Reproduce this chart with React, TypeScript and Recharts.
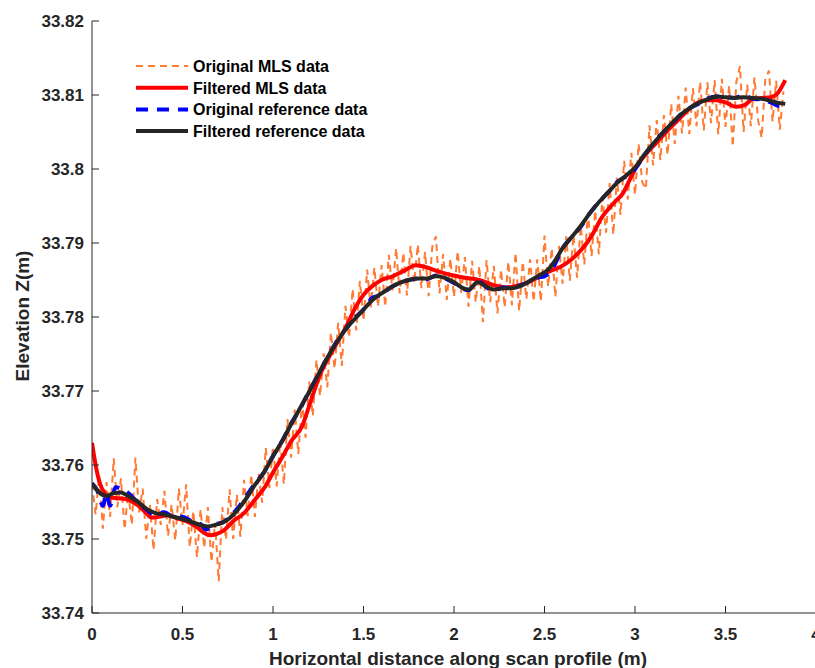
import { LineChart, Line, XAxis, YAxis } from "recharts";

// Original MLS data: sampled every 0.02 m starting at 0
const MLS_STEP = 0.02;
const mlsZ = [
  33.7575, 33.7533, 33.7586, 33.7514, 33.7577, 33.753, 33.7609, 33.7543, 33.7582, 33.7513,
  33.7565, 33.7519, 33.761, 33.7536, 33.7568, 33.75, 33.7546, 33.7485, 33.7554, 33.7519,
  33.7565, 33.7504, 33.7547, 33.7498, 33.7568, 33.7519, 33.7574, 33.7489, 33.7538, 33.7475,
  33.754, 33.7488, 33.7543, 33.7469, 33.7522, 33.7443, 33.7543, 33.7499, 33.7567, 33.75,
  33.756, 33.7503, 33.758, 33.7531, 33.7587, 33.753, 33.7589, 33.7549, 33.7623, 33.7569,
  33.7625, 33.7571, 33.7633, 33.7574, 33.7662, 33.761, 33.7675, 33.7615, 33.7685, 33.7637,
  33.7713, 33.7666, 33.7742, 33.7693, 33.7751, 33.7705, 33.7779, 33.773, 33.7792, 33.7734,
  33.7815, 33.7772, 33.7838, 33.7782, 33.7849, 33.7795, 33.7864, 33.7813, 33.7867, 33.7814,
  33.787, 33.7814, 33.7884, 33.7836, 33.7893, 33.7832, 33.7887, 33.7829, 33.7896, 33.7846,
  33.7898, 33.7839, 33.7888, 33.7828, 33.7895, 33.7909, 33.7832, 33.7885, 33.7823, 33.7879,
  33.7827, 33.7889, 33.7833, 33.7881, 33.7814, 33.7876, 33.782, 33.7869, 33.7793, 33.7877,
  33.782, 33.7869, 33.7805, 33.7864, 33.7813, 33.7875, 33.7816, 33.7887, 33.7808, 33.7875,
  33.7824, 33.7878, 33.7821, 33.7878, 33.7821, 33.791, 33.7841, 33.7893, 33.7827, 33.7896,
  33.7845, 33.7909, 33.7849, 33.7911, 33.7853, 33.7923, 33.7871, 33.7941, 33.7882, 33.7944,
  33.7885, 33.7962, 33.7914, 33.7981, 33.7911, 33.7988, 33.7938, 33.8011, 33.7959, 33.8022,
  33.7965, 33.8034, 33.7982, 33.7973, 33.8059, 33.8005, 33.8066, 33.8012, 33.8073, 33.8019,
  33.8088, 33.8034, 33.8099, 33.8048, 33.811, 33.8047, 33.8109, 33.8058, 33.8118, 33.8052,
  33.8117, 33.8062, 33.812, 33.8047, 33.8122, 33.8057, 33.8113, 33.803, 33.8118, 33.8139,
  33.805, 33.8114, 33.8058, 33.8124, 33.8066, 33.8042, 33.8122, 33.8133, 33.8064, 33.8119,
  33.8053, 33.8105,
];

const filtMlsX = [
  0, 0.02, 0.04, 0.07, 0.1, 0.15, 0.2, 0.25, 0.3, 0.33, 0.37, 0.42, 0.47, 0.53, 0.58, 0.62,
  0.65, 0.69, 0.73, 0.78, 0.84, 0.9, 0.96, 1.0, 1.05, 1.1, 1.16, 1.2, 1.26, 1.33, 1.4, 1.46,
  1.5, 1.55, 1.6, 1.66, 1.72, 1.79, 1.85, 1.92, 2.0, 2.06, 2.14, 2.22, 2.29, 2.36, 2.42, 2.48,
  2.53, 2.59, 2.65, 2.7, 2.74, 2.78, 2.81, 2.85, 2.89, 2.93, 2.97, 3.01, 3.06, 3.12, 3.18,
  3.23, 3.29, 3.34, 3.4, 3.45, 3.5, 3.56, 3.61, 3.65, 3.7, 3.75, 3.79, 3.83,
];
const filtMlsZ = [
  33.763, 33.76, 33.7578, 33.7562, 33.7556, 33.7555, 33.7553, 33.7546, 33.7535, 33.7529,
  33.753, 33.7532, 33.7528, 33.7523, 33.7516, 33.7508, 33.7505, 33.7507, 33.7512, 33.7524,
  33.7535, 33.7553, 33.7572, 33.759, 33.761, 33.7632, 33.7652, 33.768, 33.7722, 33.7755,
  33.7785, 33.7815, 33.783, 33.7842, 33.785, 33.7855, 33.7862, 33.787, 33.7867, 33.7861,
  33.7856, 33.7853, 33.785, 33.7843, 33.784, 33.7843, 33.7848, 33.7856, 33.7862, 33.7868,
  33.7878, 33.789, 33.7902, 33.7918, 33.7932, 33.7945, 33.7956, 33.7966, 33.7985, 33.8004,
  33.802, 33.8036, 33.8052, 33.8064, 33.8079, 33.8089, 33.8093, 33.8093, 33.809, 33.8084,
  33.8087, 33.8095, 33.8096, 33.8097, 33.8103, 33.812,
];

const refX = [
  0, 0.03, 0.06, 0.08, 0.1, 0.13, 0.17, 0.21, 0.25, 0.3, 0.35, 0.4, 0.45, 0.5, 0.55, 0.6,
  0.63, 0.68, 0.72, 0.76, 0.8, 0.85, 0.9, 0.95, 1.0, 1.05, 1.1, 1.15, 1.2, 1.25, 1.3, 1.35,
  1.4, 1.45, 1.5, 1.55, 1.6, 1.65, 1.7, 1.75, 1.8, 1.85, 1.9, 1.95, 2.0, 2.05, 2.08, 2.13,
  2.18, 2.22, 2.27, 2.32, 2.37, 2.42, 2.46, 2.5, 2.55, 2.6, 2.65, 2.7, 2.75, 2.8, 2.85, 2.9,
  2.95, 3.0, 3.05, 3.1, 3.15, 3.2, 3.25, 3.3, 3.35, 3.4, 3.45, 3.5, 3.55, 3.6, 3.65, 3.7,
  3.75, 3.8, 3.83,
];
const refZ = [
  33.7575, 33.7565, 33.7545, 33.7562, 33.7545, 33.757, 33.7567, 33.756, 33.755, 33.754,
  33.7532, 33.7536, 33.753, 33.753, 33.7524, 33.752, 33.7513, 33.752, 33.7522, 33.753,
  33.754, 33.7557, 33.7575, 33.759, 33.7612, 33.7632, 33.7656, 33.7676, 33.77, 33.7722,
  33.7745, 33.7766, 33.7783, 33.7798, 33.781, 33.7826, 33.783, 33.784, 33.7846, 33.785,
  33.7852, 33.7851, 33.7856, 33.7852, 33.7846, 33.7838, 33.7836, 33.7849, 33.784, 33.7835,
  33.784, 33.7839, 33.7843, 33.7848, 33.7853, 33.7855, 33.7868, 33.7893, 33.7908, 33.7922,
  33.794, 33.7955, 33.7968, 33.7982, 33.799, 33.8, 33.8018, 33.8034, 33.8048, 33.806,
  33.8073, 33.8082, 33.8088, 33.8095, 33.8098, 33.8097, 33.8096, 33.81, 33.8095, 33.8094,
  33.809, 33.8085, 33.8088,
];

const filtRefX = [
  0, 0.04, 0.08, 0.12, 0.16, 0.2, 0.25, 0.3, 0.35, 0.4, 0.45, 0.5, 0.55, 0.6, 0.64, 0.68,
  0.72, 0.76, 0.8, 0.85, 0.9, 0.95, 1.0, 1.05, 1.1, 1.15, 1.2, 1.25, 1.3, 1.35, 1.4, 1.45,
  1.5, 1.55, 1.6, 1.65, 1.7, 1.75, 1.8, 1.85, 1.9, 1.95, 2.0, 2.05, 2.08, 2.13, 2.18, 2.22,
  2.27, 2.32, 2.37, 2.42, 2.47, 2.52, 2.56, 2.6, 2.65, 2.7, 2.75, 2.8, 2.85, 2.9, 2.95, 3.0,
  3.05, 3.1, 3.15, 3.2, 3.25, 3.3, 3.35, 3.4, 3.45, 3.5, 3.55, 3.6, 3.65, 3.7, 3.75, 3.8, 3.83,
];
const filtRefZ = [
  33.7575, 33.7563, 33.7558, 33.7562, 33.7563, 33.7558, 33.7551, 33.7541, 33.7535, 33.7533,
  33.753, 33.7527, 33.7523, 33.7519, 33.7517, 33.7519, 33.7522, 33.7528, 33.7538, 33.7554,
  33.7573, 33.759, 33.7612, 33.7632, 33.7655, 33.7677, 33.7699, 33.7722, 33.7745, 33.7765,
  33.7783, 33.7797, 33.781, 33.7823, 33.7832, 33.784, 33.7846, 33.785, 33.7852, 33.7852,
  33.7855, 33.7853, 33.7847, 33.7839, 33.7837, 33.7847, 33.7841, 33.7837, 33.7839, 33.7839,
  33.7842, 33.7849, 33.7856, 33.7864, 33.7877, 33.7893, 33.7908, 33.7923, 33.794, 33.7955,
  33.7968, 33.7981, 33.7991, 33.8002, 33.8019, 33.8034, 33.8048, 33.8061, 33.8073, 33.8082,
  33.8089, 33.8094, 33.8098, 33.8097, 33.8096, 33.8097, 33.8096, 33.8095, 33.8092, 33.8089,
  33.8088,
];

const xTicks = [0, 0.5, 1, 1.5, 2, 2.5, 3, 3.5, 4];
const yTicks = [33.74, 33.75, 33.76, 33.77, 33.78, 33.79, 33.8, 33.81, 33.82];

const ORANGE = "#FF7A33";
const RED = "#FF0000";
const BLUE = "#0000FF";
const DARK = "#262626";
const FONT = "'Liberation Sans', Arial, sans-serif";

const mlsData = mlsZ.map((z, i) => ({ x: i * MLS_STEP, z }));
const filtMlsData = filtMlsX.map((x, i) => ({ x, z: filtMlsZ[i] }));
const refData = refX.map((x, i) => ({ x, z: refZ[i] }));
const filtRefData = filtRefX.map((x, i) => ({ x, z: filtRefZ[i] }));

const legendItems = [
  { label: "Original MLS data", color: ORANGE, width: 2, dash: "7 5" },
  { label: "Filtered MLS data", color: RED, width: 4, dash: undefined },
  { label: "Original reference data", color: BLUE, width: 4, dash: "12 9" },
  { label: "Filtered reference data", color: DARK, width: 4, dash: undefined },
];

const tickStyle = { fontSize: 17, fontWeight: 700, fill: DARK, fontFamily: FONT };

export default function App() {
  return (
    <div
      style={{
        position: "absolute",
        left: 0,
        top: 0,
        width: 815,
        height: 668,
        overflow: "hidden",
        background: "#fff",
      }}
    >
      <LineChart
        width={830}
        height={668}
        margin={{ top: 21, right: 14, bottom: 0, left: 0 }}
      >
        <XAxis
          type="number"
          dataKey="x"
          domain={[0, 4]}
          ticks={xTicks}
          interval={0}
          height={55}
          allowDataOverflow
          tickSize={-7}
          tickMargin={22}
          tick={tickStyle}
          tickFormatter={(v: number) => String(+v.toFixed(1))}
          axisLine={{ stroke: DARK, strokeWidth: 1 }}
          tickLine={{ stroke: DARK, strokeWidth: 1 }}
          label={{
            content: () => (
              <text
                x={458}
                y={665}
                textAnchor="middle"
                style={{ fontSize: 19, fontWeight: 700, fill: DARK, fontFamily: FONT }}
              >
                Horizontal distance along scan profile (m)
              </text>
            ),
          }}
        />
        <YAxis
          type="number"
          dataKey="z"
          domain={[33.74, 33.82]}
          ticks={yTicks}
          interval={0}
          width={92}
          allowDataOverflow
          tickSize={-7}
          tickMargin={15}
          tick={tickStyle}
          tickFormatter={(v: number) => String(+v.toFixed(2))}
          axisLine={{ stroke: DARK, strokeWidth: 1 }}
          tickLine={{ stroke: DARK, strokeWidth: 1 }}
          label={{
            content: () => (
              <text
                x={29}
                y={316}
                transform="rotate(-90, 29, 316)"
                textAnchor="middle"
                style={{ fontSize: 19, fontWeight: 700, fill: DARK, fontFamily: FONT }}
              >
                Elevation Z(m)
              </text>
            ),
          }}
        />
        <Line
          data={mlsData}
          dataKey="z"
          type="linear"
          stroke={ORANGE}
          strokeWidth={2}
          strokeDasharray="7 5"
          dot={false}
          activeDot={false}
          isAnimationActive={false}
        />
        <Line
          data={filtMlsData}
          dataKey="z"
          type="monotone"
          stroke={RED}
          strokeWidth={4}
          dot={false}
          activeDot={false}
          isAnimationActive={false}
        />
        <Line
          data={refData}
          dataKey="z"
          type="monotone"
          stroke={BLUE}
          strokeWidth={4}
          strokeDasharray="12 9"
          dot={false}
          activeDot={false}
          isAnimationActive={false}
        />
        <Line
          data={filtRefData}
          dataKey="z"
          type="monotone"
          stroke={DARK}
          strokeWidth={4}
          dot={false}
          activeDot={false}
          isAnimationActive={false}
        />
      </LineChart>

      {/* legend, no box, top-left inside the axes */}
      <svg
        width={260}
        height={90}
        style={{ position: "absolute", left: 130, top: 52 }}
      >
        {legendItems.map((item, i) => {
          const cy = 14 + i * 21.7;
          return (
            <g key={item.label}>
              <line
                x1={6}
                x2={58}
                y1={cy}
                y2={cy}
                stroke={item.color}
                strokeWidth={item.width}
                strokeDasharray={item.dash}
              />
              <text
                x={63}
                y={cy + 6}
                style={{ fontSize: 16, fontWeight: 700, fill: "#000", fontFamily: FONT }}
              >
                {item.label}
              </text>
            </g>
          );
        })}
      </svg>
    </div>
  );
}
